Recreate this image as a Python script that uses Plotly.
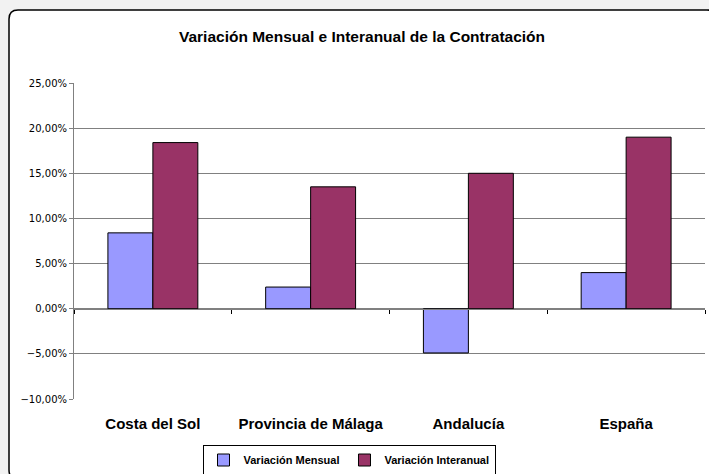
import plotly.graph_objects as go

categories = ["Costa del Sol", "Provincia de Málaga", "Andalucía", "España"]
mensual = [0.084, 0.024, -0.049, 0.040]
interanual = [0.184, 0.135, 0.150, 0.190]
series_names = ["Variación Mensual", "Variación Interanual"]
title_text = "Variación Mensual e Interanual de la Contratación"

W, H = 709, 474
ML, MR, MT, MB = 74, 4, 83, 75
ymin, ymax = -0.10, 0.25
pw = W - ML - MR
ph = H - MT - MB

def px_x(p):
    return (p - ML) / pw

def px_y(p):
    return (H - MB - p) / ph

# rounded chart border (pixel coords -> paper)
x0, y0, x1, y1, r = 9, 10, 716, 479, 9
path = (
    f"M {px_x(x0)},{px_y(y0 + r)} "
    f"Q {px_x(x0)},{px_y(y0)} {px_x(x0 + r)},{px_y(y0)} "
    f"L {px_x(x1 - r)},{px_y(y0)} "
    f"Q {px_x(x1)},{px_y(y0)} {px_x(x1)},{px_y(y0 + r)} "
    f"L {px_x(x1)},{px_y(y1 - r)} "
    f"Q {px_x(x1)},{px_y(y1)} {px_x(x1 - r)},{px_y(y1)} "
    f"L {px_x(x0 + r)},{px_y(y1)} "
    f"Q {px_x(x0)},{px_y(y1)} {px_x(x0)},{px_y(y1 - r)} Z"
)

fig = go.Figure()
fig.add_trace(go.Bar(x=categories, y=mensual, name=series_names[0],
                     marker=dict(color="#9999FF", line=dict(color="#000000", width=1))))
fig.add_trace(go.Bar(x=categories, y=interanual, name=series_names[1],
                     marker=dict(color="#993366", line=dict(color="#000000", width=1))))
# helper trace for the zero-line category axis
fig.add_trace(go.Scatter(x=categories, y=[0] * len(categories), xaxis="x2", mode="none",
                         showlegend=False, hoverinfo="skip"))

zero_pos = (0 - ymin) / (ymax - ymin)

fig.update_layout(
    width=W, height=H,
    margin=dict(l=ML, r=MR, t=MT, b=MB, pad=0),
    paper_bgcolor="#f2f2f2",
    plot_bgcolor="#ffffff",
    separators=",.",
    barmode="group",
    bargap=0.43,
    bargroupgap=0,
    title=dict(text=title_text, x=362 / W, xanchor="center", y=1 - 37 / H, yanchor="middle",
               font=dict(family="Liberation Sans, Arial", size=15.5, color="#000000", weight="bold")),
    xaxis=dict(categoryorder="array", categoryarray=categories, showline=False, ticks="",
               showgrid=False, zeroline=False, ticklabelstandoff=14,
               tickfont=dict(family="Liberation Sans, Arial", size=15, color="#000000", weight="bold")),
    xaxis2=dict(overlaying="x", matches="x", anchor="free", position=zero_pos,
                tickson="boundaries", ticks="outside", ticklen=4, tickcolor="#000000",
                showticklabels=False, showline=True, linecolor="#808080", linewidth=1,
                showgrid=False, zeroline=False),
    yaxis=dict(range=[ymin, ymax], dtick=0.05, tickformat=".2%", showgrid=True,
               gridcolor="#808080", gridwidth=1, zeroline=False,
               showline=True, linecolor="#808080", linewidth=1,
               ticks="outside", ticklen=4, tickcolor="#808080",
               tickfont=dict(family="DejaVu Sans, Verdana", size=10, color="#000000")),
    legend=dict(orientation="h", xref="container", yref="container",
                x=349 / W, xanchor="center", y=1 - 460 / H, yanchor="middle",
                bgcolor="#ffffff", bordercolor="#000000", borderwidth=1,
                font=dict(family="Liberation Sans, Arial", size=11, color="#000000", weight="bold"),
                itemwidth=30, tracegroupgap=0),
    shapes=[dict(type="path", path=path, xref="paper", yref="paper", layer="below",
                 fillcolor="#ffffff", line=dict(color="#000000", width=1.5))],
)

fig.write_html("out.html", config={"displayModeBar": False},
               post_script="document.body.style.margin='0px';document.body.style.padding='0px';")
